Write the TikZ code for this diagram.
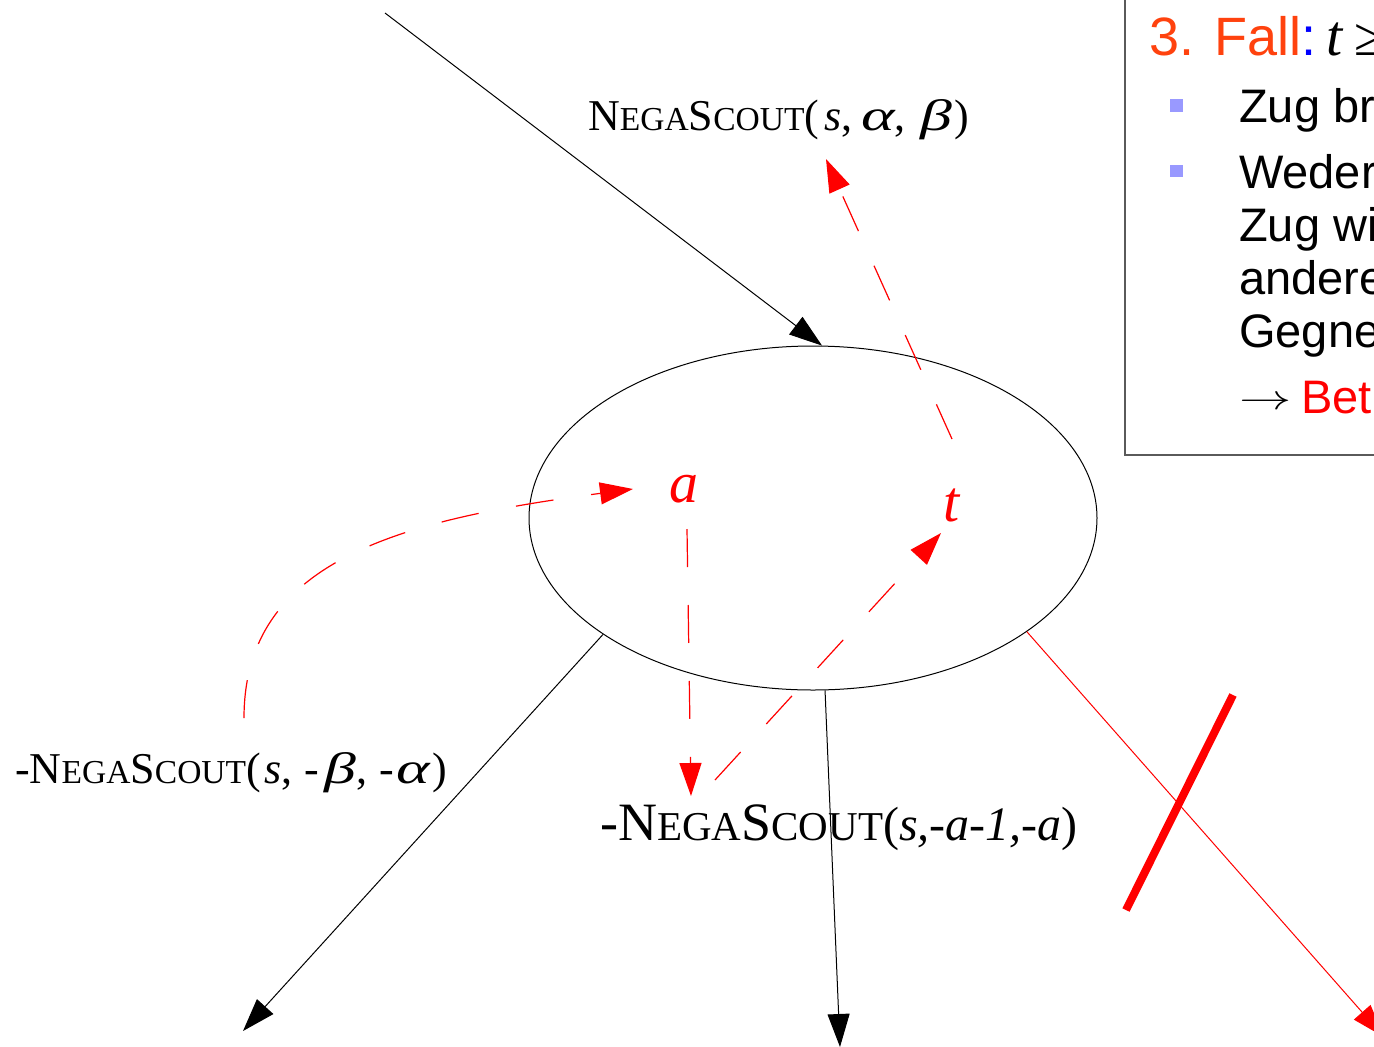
\documentclass[tikz,border=0pt]{standalone}
\usepackage{fontspec}
\usepackage{graphicx}
\setmainfont{Liberation Serif}
\newfontfamily\boxsans{Liberation Sans}
\usetikzlibrary{arrows.meta,shapes.geometric}
\definecolor{fallorange}{RGB}{255,66,14}
\definecolor{bulletblue}{RGB}{153,153,255}
\definecolor{boxgray}{RGB}{90,90,90}
\newcommand\negsc[1]{N{\fontsize{#1}{#1}\selectfont EGA}S{\fontsize{#1}{#1}\selectfont COUT}}
\newcommand\gk[1]{\scalebox{1.45}[1]{\itshape #1}}
\begin{document}
\begin{tikzpicture}[x=1pt,y=-1pt,
  tipA/.style={-{Triangle[length=33pt,width=22pt]}},
  blk/.style={draw=black, line width=1pt, tipA},
  redthin/.style={draw=red, line width=1pt, tipA},
  reddash/.style={draw=red, line width=1.2pt, dash pattern=on 38pt off 38pt, tipA},
  cross/.style={draw=red, line width=8pt},
  lbl/.style={font=\fontsize{44}{44}\selectfont, inner sep=0pt, anchor=base west},
  var/.style={text=red, font=\fontsize{58}{58}\selectfont\itshape, inner sep=0pt, anchor=base},
  boxtxt/.style={font=\boxsans\fontsize{47}{47}\selectfont, inner sep=0pt, anchor=base west},
  bullet/.style={fill=bulletblue},
  ]
\useasboundingbox (0,0) rectangle (1374,1047);
\clip (0,0) rectangle (1374,1047);

% main ellipse
\node[ellipse, draw, line width=1pt, minimum width=568pt, minimum height=344pt, inner sep=0pt] (e) at (813,518) {};

% free ends
\coordinate (top) at (385,13);
\coordinate (bl) at (243,1031);
\coordinate (bm) at (840,1047);
\coordinate (br) at (1384,1037);
\coordinate (x1) at (1233,695);
\coordinate (x2) at (1126,910);

% black connectors
\draw[blk] (top) -- (e.87);
\draw[blk] (e.209) -- (bl);
\draw[blk] (e.274) -- (bm);
\draw[redthin] (e.332) -- (br);
\draw[cross] (x1) -- (x2);

% labels
\node[lbl] (l1) at (588,130)
  {\negsc{33.5}(\hspace{5pt}\textit{s},\hspace{9pt}\gk{α},\hspace{15pt}\gk{β}\hspace{2pt})};
\node[lbl] (l2) at (15,783)
  {-\negsc{33.5}(\hspace{4pt}\textit{s},\hspace{12pt}\textit{-}\hspace{5pt}\gk{β},\hspace{12pt}\textit{-}\hspace{3pt}\gk{α}\hspace{2pt})};
\node[lbl, font=\fontsize{54}{54}\selectfont] (l3) at (600,840)
  {-\negsc{41}{\fontsize{48}{48}\selectfont(\textit{s,-a-1,-a})}};

% variables
\node[var] (a) at (684,502) {a};
\node[var] (t) at (952,521) {t};

% dashed red paths
\coordinate (c1) at (244,718);
\coordinate (c2) at (633,489);
\coordinate (a1) at (687,529);
\coordinate (a2) at (691,796);
\coordinate (b1) at (715,780);
\coordinate (b2) at (941,533);
\coordinate (t1) at (952,439);
\coordinate (t2) at (826,159);
\draw[reddash] (c1) .. controls (244,560) and (400,520) .. (c2);
\draw[reddash] (a1) -- (a2);
\draw[reddash] (b1) -- (b2);
\draw[reddash] (t1) -- (t2);

% text box
\draw[boxgray, line width=1.5pt] (1125,-10) -- (1125,455) -- (1400,455);
\node[boxtxt, font=\boxsans\fontsize{54}{54}\selectfont] (h) at (1149,55)
  {\textcolor{fallorange}{3. Fall}\textcolor{blue}{:}\hspace{10pt}{\rmfamily\itshape\fontsize{58}{58}\selectfont t}\hspace{12pt}{\rmfamily ≥}};
\fill[bullet] (1170,99) rectangle (1183,112);
\fill[bullet] (1170,165) rectangle (1183,177);
\node[boxtxt] (z1) at (1239,122) {Zug br};
\node[boxtxt] (z2) at (1239,188) {Weder};
\node[boxtxt] (z3) at (1239,241) {Zug wi};
\node[boxtxt] (z4) at (1239,294) {andere};
\node[boxtxt] (z5) at (1239,347) {Gegne};
\node[boxtxt] (z6) at (1239,413) {\raisebox{4pt}{\scalebox{2.1}[1.4]{$\rightarrow$}}\hspace{10pt}\textcolor{red}{Beta}};
\end{tikzpicture}
\end{document}
